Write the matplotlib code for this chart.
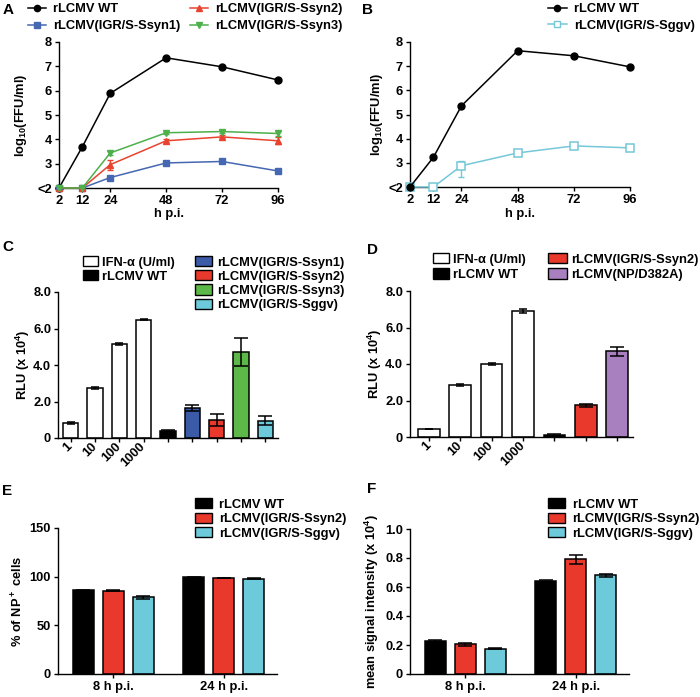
import matplotlib
matplotlib.use('Agg')
import matplotlib.pyplot as plt
from matplotlib.patches import Patch
from matplotlib.lines import Line2D
import numpy as np

plt.rcParams['font.family'] = ['Liberation Sans', 'DejaVu Sans']
plt.rcParams['font.weight'] = 'bold'
plt.rcParams['font.size'] = 9.3
plt.rcParams['axes.labelweight'] = 'bold'
plt.rcParams['mathtext.fontset'] = 'custom'
plt.rcParams['mathtext.rm'] = 'Liberation Sans:bold'
plt.rcParams['mathtext.it'] = 'Liberation Sans:bold'
plt.rcParams['mathtext.bf'] = 'Liberation Sans:bold'
plt.rcParams['mathtext.default'] = 'rm'
plt.rcParams['axes.linewidth'] = 1.0

# ---------------- data ----------------
hpi = [2, 12, 24, 48, 72, 96]
hpi_labels = ['2', '12', '24', '48', '72', '96']
A_wt = [2, 3.69, 5.89, 7.35, 6.98, 6.44]
A_wt_err = [0, 0.03, 0.04, 0.04, 0.04, 0.04]
A_ssyn1 = [2, 2, 2.43, 3.03, 3.09, 2.70]
A_ssyn1_err = [0, 0, 0.05, 0.04, 0.05, 0.06]
A_ssyn2 = [2, 2, 2.96, 3.94, 4.10, 3.94]
A_ssyn2_err = [0, 0, 0.20, 0.06, 0.06, 0.14]
A_ssyn3 = [2, 2, 3.44, 4.27, 4.32, 4.24]
A_ssyn3_err = [0, 0, 0.09, 0.04, 0.05, 0.09]

B_wt = [2, 3.23, 5.36, 7.64, 7.43, 6.97]
B_sggv = [2, 2, 2.88, 3.41, 3.70, 3.62]
B_sggv_err_lo = [0, 0, 0.45, 0.04, 0.04, 0.03]
B_sggv_err_hi = [0, 0, 0.20, 0.04, 0.04, 0.03]

ifn_doses = ['1', '10', '100', '1000']
C_ifn = [0.82, 2.72, 5.15, 6.48]
C_ifn_err = [0.03, 0.06, 0.07, 0.02]
C_virus = [0.37, 1.64, 1.00, 4.73, 0.95]
C_virus_err = [0.05, 0.16, 0.32, 0.76, 0.24]

D_ifn = [0.44, 2.85, 3.98, 6.90]
D_ifn_err = [0.02, 0.05, 0.05, 0.10]
D_virus = [0.10, 1.74, 4.70]
D_virus_err = [0.05, 0.07, 0.25]

groups = ['8 h p.i.', '24 h p.i.']
E_wt = [85.8, 99.2]
E_wt_err = [1.0, 0.3]
E_ssyn2 = [85.5, 98.5]
E_ssyn2_err = [0.6, 0.3]
E_sggv = [78.6, 97.8]
E_sggv_err = [1.8, 0.5]

F_wt = [0.229, 0.642]
F_wt_err = [0.007, 0.008]
F_ssyn2 = [0.204, 0.791]
F_ssyn2_err = [0.008, 0.030]
F_sggv = [0.174, 0.680]
F_sggv_err = [0.003, 0.012]

lab_wt = 'rLCMV WT'
lab_s1 = 'rLCMV(IGR/S-Ssyn1)'
lab_s2 = 'rLCMV(IGR/S-Ssyn2)'
lab_s3 = 'rLCMV(IGR/S-Ssyn3)'
lab_gg = 'rLCMV(IGR/S-Sggv)'
lab_np = 'rLCMV(NP/D382A)'
lab_ifn = 'IFN-\u03b1 (U/ml)'

# colours
BLACK = '#000000'
RED = '#E8392C'
BLUE = '#3B5BA9'
GREEN = '#5CB848'
CYAN = '#6DCADB'
PURPLE = '#A980BF'
LRED = '#E8432F'
LBLUE = '#4667B1'
LGREEN = '#4DB04A'
LCYAN = '#74C8D8'

W, H = 700, 697
fig = plt.figure(figsize=(7, 6.97), dpi=100)
FS = 9.3


def add_ax(l, t, r, b):
    ax = fig.add_axes([l / W, 1 - b / H, (r - l) / W, (b - t) / H])
    ax.spines['top'].set_visible(False)
    ax.spines['right'].set_visible(False)
    ax.tick_params(direction='out', length=3, width=1, pad=2, labelsize=FS)
    return ax


def ylab(ax, text, x_px, l, r):
    ax.set_ylabel(text, fontsize=FS, fontweight='bold')
    ax.yaxis.set_label_coords((x_px - l) / (r - l), 0.5)


def col_legend(handles, labels, x_px, y_px, hl, pad, ls, hh=0.7):
    fig.legend(handles, labels, loc='upper left',
               bbox_to_anchor=(x_px / W, 1 - y_px / H),
               frameon=False, borderpad=0, borderaxespad=0,
               handlelength=hl, handletextpad=pad, labelspacing=ls,
               handleheight=hh, fontsize=FS)


def letter(x, y, s):
    fig.text(x / W, 1 - y / H, s, fontsize=11, fontweight='bold', ha='left', va='center')


# ---------------- Panel A ----------------
lA, tA, rA, bA = 59, 42, 278, 188
axA = add_ax(lA, tA, rA, bA)
seriesA = [(A_wt, A_wt_err, BLACK, 'o', lab_wt),
           (A_ssyn1, A_ssyn1_err, LBLUE, 's', lab_s1),
           (A_ssyn2, A_ssyn2_err, LRED, '^', lab_s2),
           (A_ssyn3, A_ssyn3_err, LGREEN, 'v', lab_s3)]
for vals, err, c, m, lab in seriesA:
    axA.errorbar(hpi, vals, yerr=err, fmt='none', ecolor=c, elinewidth=1.0,
                 capsize=2.5, capthick=1.0, clip_on=False)
    axA.plot(hpi, vals, color=c, marker=m, ms=5, lw=1.1, clip_on=False, zorder=3)
axA.set_xlim(2, 96)
axA.set_ylim(2, 8)
axA.set_xticks(hpi)
axA.set_xticklabels(hpi_labels)
axA.set_yticks([2, 3, 4, 5, 6, 7, 8])
axA.set_yticklabels(['<2', '3', '4', '5', '6', '7', '8'])
ylab(axA, 'log$_{10}$(FFU/ml)', 29, lA, rA)
axA.set_xlabel('h p.i.', fontsize=FS, fontweight='bold')
axA.xaxis.set_label_coords(0.5, -(208 - bA) / (bA - tA))
hA = [Line2D([], [], color=c, marker=m, ms=4.5, lw=1.1) for _, _, c, m, _ in seriesA]
col_legend([hA[0], hA[1]], [lab_wt, lab_s1], 28, 3, 1.4, 0.55, 0.4)
col_legend([hA[2], hA[3]], [lab_s2, lab_s3], 190, 3, 1.4, 0.55, 0.4)
letter(3, 10, 'A')

# ---------------- Panel B ----------------
lB, tB, rB, bB = 410, 42, 630, 187
axB = add_ax(lB, tB, rB, bB)
axB.errorbar(hpi, B_sggv, yerr=[B_sggv_err_lo, B_sggv_err_hi], fmt='none', ecolor=LCYAN,
             elinewidth=1.0, capsize=2.5, capthick=1.0, clip_on=False)
axB.plot(hpi, B_sggv, color=LCYAN, marker='s', ms=5.5, mfc='white', mec=LCYAN, mew=1.1,
         lw=1.1, clip_on=False, zorder=3)
axB.plot(hpi, B_wt, color=BLACK, marker='o', ms=5, lw=1.1, clip_on=False, zorder=4)
axB.set_xlim(2, 96)
axB.set_ylim(2, 8)
axB.set_xticks(hpi)
axB.set_xticklabels(hpi_labels)
axB.set_yticks([2, 3, 4, 5, 6, 7, 8])
axB.set_yticklabels(['<2', '3', '4', '5', '6', '7', '8'])
ylab(axB, 'log$_{10}$(FFU/ml)', 385, lB, rB)
axB.set_xlabel('h p.i.', fontsize=FS, fontweight='bold')
axB.xaxis.set_label_coords(0.5, -(208 - bB) / (bB - tB))
hB = [Line2D([], [], color=BLACK, marker='o', ms=4.5, lw=1.1),
      Line2D([], [], color=LCYAN, marker='s', ms=5, mfc='white', mec=LCYAN, lw=1.1)]
col_legend(hB, [lab_wt, lab_gg], 548, 3, 1.45, 0.55, 0.35)
letter(362, 10, 'B')


def fmt_rlu(ax):
    ax.set_ylim(0, 8)
    ax.set_yticks([0, 2, 4, 6, 8])
    ax.set_yticklabels(['0', '2.0', '4.0', '6.0', '8.0'])


# ---------------- Panel C ----------------
lC, tC, rC, bC = 58, 292, 278, 438
axC = add_ax(lC, tC, rC, bC)
xC_ifn = np.arange(len(C_ifn))
xC_vir = np.arange(len(C_virus)) + len(C_ifn)
wC = 0.64
ekw = dict(elinewidth=1.1, capthick=1.1)
axC.bar(xC_ifn, C_ifn, wC, color='white', edgecolor='black', linewidth=1.1,
        yerr=C_ifn_err, capsize=3, error_kw=ekw)
axC.bar(xC_vir, C_virus, wC, color=[BLACK, BLUE, RED, GREEN, CYAN], edgecolor='black',
        linewidth=1.1, yerr=C_virus_err, capsize=4.7, error_kw=ekw)
axC.set_xlim(-0.52, 8.52)
fmt_rlu(axC)
axC.set_xticks(np.concatenate([xC_ifn, xC_vir]))
axC.set_xticklabels(ifn_doses + [''] * len(C_virus), rotation=45, ha='right',
                    rotation_mode='anchor', va='center')
ylab(axC, 'RLU (x 10$^4$)', 32, lC, rC)
col_legend([Patch(fc='white', ec='black'), Patch(fc=BLACK, ec='black')],
           [lab_ifn, lab_wt], 83, 256, 1.15, 0.35, 0.12, 0.85)
col_legend([Patch(fc=BLUE, ec='black'), Patch(fc=RED, ec='black'),
            Patch(fc=GREEN, ec='black'), Patch(fc=CYAN, ec='black')],
           [lab_s1, lab_s2, lab_s3, lab_gg], 195, 256, 1.35, 0.4, 0.12, 0.85)
letter(2, 247, 'C')

# ---------------- Panel D ----------------
lD, tD, rD, bD = 410, 291, 633, 437
axD = add_ax(lD, tD, rD, bD)
xD_ifn = np.arange(len(D_ifn))
xD_vir = np.arange(len(D_virus)) + len(D_ifn)
wD = 0.69
axD.bar(xD_ifn, D_ifn, wD, color='white', edgecolor='black', linewidth=1.1,
        yerr=D_ifn_err, capsize=3, error_kw=ekw)
axD.bar(xD_vir, D_virus, wD, color=[BLACK, RED, PURPLE], edgecolor='black',
        linewidth=1.1, yerr=D_virus_err, capsize=4.7, error_kw=ekw)
axD.set_xlim(-0.6, 6.5)
fmt_rlu(axD)
axD.set_xticks(np.concatenate([xD_ifn, xD_vir]))
axD.set_xticklabels(ifn_doses + [''] * len(D_virus), rotation=45, ha='right',
                    rotation_mode='anchor', va='center')
ylab(axD, 'RLU (x 10$^4$)', 384, lD, rD)
col_legend([Patch(fc='white', ec='black'), Patch(fc=BLACK, ec='black')],
           [lab_ifn, lab_wt], 433, 253, 1.25, 0.3, 0.2, 0.85)
col_legend([Patch(fc=RED, ec='black'), Patch(fc=PURPLE, ec='black')],
           [lab_s2, lab_np], 548, 253, 1.5, 0.3, 0.2, 0.85)
letter(367, 250, 'D')


def grouped(ax, data, errs, colors, width):
    for i, (vals, err, c) in enumerate(zip(data, errs, colors)):
        x = np.arange(len(vals)) * 3.67 + i
        ax.bar(x, vals, width, color=c, edgecolor='black', linewidth=1.1,
               yerr=err, capsize=4.7, error_kw=ekw)
    ax.set_xticks(np.arange(len(groups)) * 3.67 + 1)
    ax.set_xticklabels(groups)
    ax.set_xlim(-0.84, 6.44)


# ---------------- Panel E ----------------
lE, tE, rE, bE = 58, 528, 277, 674
axE = add_ax(lE, tE, rE, bE)
grouped(axE, [E_wt, E_ssyn2, E_sggv], [E_wt_err, E_ssyn2_err, E_sggv_err],
        [BLACK, RED, CYAN], 0.69)
axE.set_ylim(0, 150)
axE.set_yticks([0, 50, 100, 150])
ylab(axE, '% of NP$^+$ cells', 26, lE, rE)
col_legend([Patch(fc=BLACK, ec='black'), Patch(fc=RED, ec='black'), Patch(fc=CYAN, ec='black')],
           [lab_wt, lab_s2, lab_gg], 195, 498, 1.35, 0.5, 0.15, 0.85)
letter(2, 491, 'E')

# ---------------- Panel F ----------------
lF, tF, rF, bF = 410, 529, 629, 674
axF = add_ax(lF, tF, rF, bF)
grouped(axF, [F_wt, F_ssyn2, F_sggv], [F_wt_err, F_ssyn2_err, F_sggv_err],
        [BLACK, RED, CYAN], 0.69)
axF.set_ylim(0, 1.0)
axF.set_yticks([0, 0.2, 0.4, 0.6, 0.8, 1.0])
axF.set_yticklabels(['0', '0.2', '0.4', '0.6', '0.8', '1.0'])
ylab(axF, 'mean signal intensity (x 10$^4$)', 381, lF, rF)
col_legend([Patch(fc=BLACK, ec='black'), Patch(fc=RED, ec='black'), Patch(fc=CYAN, ec='black')],
           [lab_wt, lab_s2, lab_gg], 548, 498, 1.3, 0.6, 0.15, 0.85)
letter(367, 489, 'F')

fig.savefig('out.png', dpi=100)
